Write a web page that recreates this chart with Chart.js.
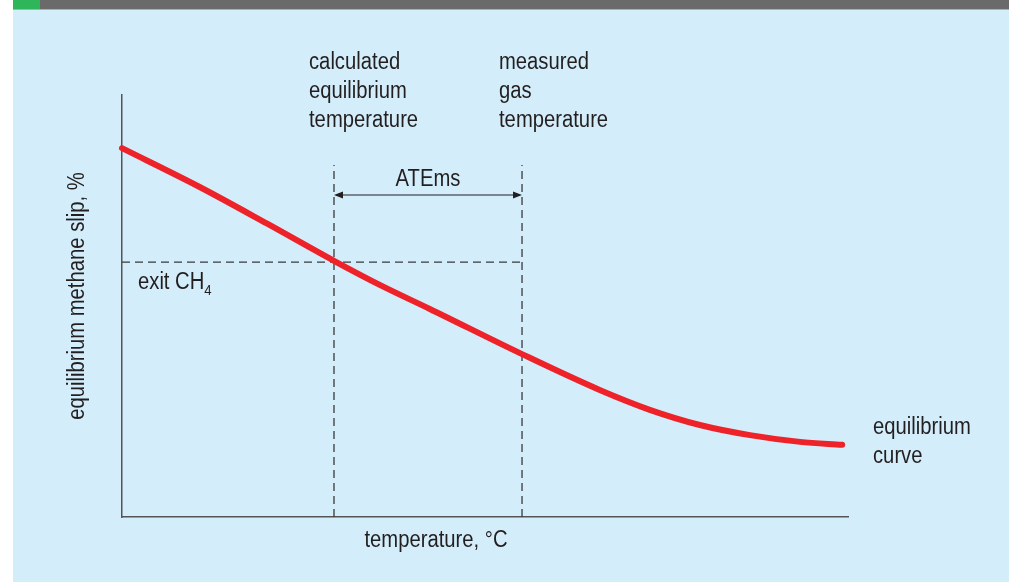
<!DOCTYPE html>
<html>
<head>
<meta charset="utf-8">
<script src="https://cdn.jsdelivr.net/npm/chart.js@4.4.1/dist/chart.umd.min.js"></script>
<style>
	body { margin: 0; background: #fff; width: 1009px; height: 582px; overflow: hidden; position: relative; }
	.panel { position: absolute; left: 13px; top: 0; right: 0; bottom: 0; background: #d3eefa; }
	.bar { position: absolute; left: 13px; top: 0; right: 0; height: 9px; background: #6a6a6b; border-bottom: 1px solid #9fb3bb; }
	.green { position: absolute; left: 13px; top: 0; width: 27px; height: 9px; background: #2fb55a; }
	#chart { position: absolute; left: 0; top: 0; }
</style>
</head>
<body>
<div class="panel"></div>
<div class="bar"></div>
<div class="green"></div>
<canvas id="chart" width="1009" height="582"></canvas>
<script>
// данные (x: 0..100 по оси температуры, y: 0..100 по оси проскока)
const temps = [0, 10.7, 20, 29.2, 35.5, 42.4, 55.1, 65.8, 72.7, 79.6, 86.5, 93.4, 99.2];
const slip = [87.4, 78.2, 69.5, 60.7, 55.0, 49.3, 38.6, 30.1, 25.4, 21.8, 19.4, 17.8, 17.1];

const calcTemp = 29.2;     // calculated equilibrium temperature
const measTemp = 55.1;     // measured gas temperature
const exitCH4 = 60.4;      // exit CH4 level
const refTop = 83.4;       // верх пунктирных вертикалей
const arrowLevel = 76.3;   // уровень стрелки ATEms

const FONT = "'Liberation Sans', Arial, sans-serif";
const INK = '#231f20';
const SQUEEZE = 0.88;

// узкий шрифт: рисуем с горизонтальным сжатием
function label(ctx, text, px, py, size, align) {
	ctx.save();
	ctx.font = size + 'px ' + FONT;
	ctx.textBaseline = 'middle';
	ctx.textAlign = align || 'left';
	ctx.translate(px, py);
	ctx.scale(SQUEEZE, 1);
	ctx.fillText(text, 0, 0);
	const w = ctx.measureText(text).width * SQUEEZE;
	ctx.restore();
	return w;
}

const dash = [8, 5];
function refLine(points) {
	return {
		data: points,
		borderColor: '#3a3a3a',
		borderWidth: 1.3,
		borderDash: dash,
		pointRadius: 0,
		tension: 0,
		clip: false,
	};
}

const annotations = {
	id: 'annotations',
	afterDatasetsDraw(chart) {
		const { ctx, scales: { x, y } } = chart;
		ctx.save();
		// стрелка ATEms
		const ax1 = x.getPixelForValue(calcTemp);
		const ax2 = x.getPixelForValue(measTemp);
		const ay = y.getPixelForValue(arrowLevel);
		ctx.strokeStyle = INK;
		ctx.fillStyle = INK;
		ctx.lineWidth = 1.2;
		ctx.beginPath();
		ctx.moveTo(ax1 + 2, ay);
		ctx.lineTo(ax2 - 2, ay);
		ctx.stroke();
		ctx.beginPath();
		ctx.moveTo(ax1, ay);
		ctx.lineTo(ax1 + 9, ay - 3.5);
		ctx.lineTo(ax1 + 9, ay + 3.5);
		ctx.closePath();
		ctx.fill();
		ctx.beginPath();
		ctx.moveTo(ax2, ay);
		ctx.lineTo(ax2 - 9, ay - 3.5);
		ctx.lineTo(ax2 - 9, ay + 3.5);
		ctx.closePath();
		ctx.fill();

		// подписи
		const lh = 29;
		['calculated', 'equilibrium', 'temperature'].forEach((t, i) => label(ctx, t, 309, 63 + i * lh, 23));
		['measured', 'gas', 'temperature'].forEach((t, i) => label(ctx, t, 499, 63 + i * lh, 23));
		['equilibrium', 'curve'].forEach((t, i) => label(ctx, t, 873, 428 + i * lh, 23));
		label(ctx, 'ATEms', (ax1 + ax2) / 2, 180, 23, 'center');
		label(ctx, 'temperature, °C', 436, 541, 23, 'center');

		const w = label(ctx, 'exit CH', 138, 283, 23);
		label(ctx, '4', 138 + w, 291, 15);

		ctx.translate(78, 296);
		ctx.rotate(-Math.PI / 2);
		label(ctx, 'equilibrium methane slip, %', 0, 0, 23, 'center');
		ctx.restore();
	}
};

new Chart(document.getElementById('chart'), {
	type: 'line',
	data: {
		datasets: [
			{
				data: temps.map((t, i) => ({ x: t, y: slip[i] })),
				borderColor: '#ee2229',
				borderWidth: 6,
				borderCapStyle: 'round',
				pointRadius: 0,
				cubicInterpolationMode: 'monotone',
				clip: false,
			},
			refLine([{ x: calcTemp, y: 0 }, { x: calcTemp, y: refTop }]),
			refLine([{ x: measTemp, y: 0 }, { x: measTemp, y: refTop }]),
			refLine([{ x: 0, y: exitCH4 }, { x: measTemp, y: exitCH4 }]),
		]
	},
	options: {
		responsive: false,
		animation: false,
		events: [],
		layout: { padding: { left: 122, right: 161, top: 95, bottom: 65 } },
		plugins: { legend: { display: false }, tooltip: { enabled: false } },
		scales: {
			x: {
				type: 'linear', min: 0, max: 100,
				ticks: { display: false },
				grid: { display: false, drawTicks: false },
				border: { display: true, color: '#555', width: 1.5 },
			},
			y: {
				type: 'linear', min: 0, max: 100,
				ticks: { display: false },
				grid: { display: false, drawTicks: false },
				border: { display: true, color: '#555', width: 1.5 },
			}
		}
	},
	plugins: [annotations],
});
</script>
</body>
</html>
